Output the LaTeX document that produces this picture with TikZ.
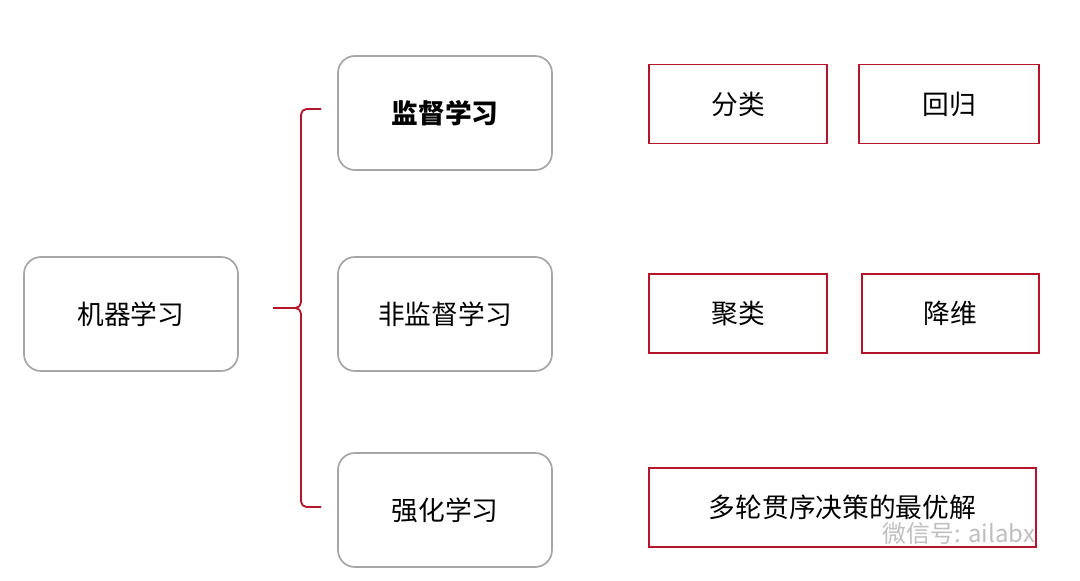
\documentclass[tikz,border=0pt]{standalone}
\usepackage{fontspec}
\setmainfont{Noto Sans CJK SC}
\colorlet{boxgray}{black!35}
\definecolor{brickred}{HTML}{B5152B}
\tikzset{
  learnbox/.style={draw=boxgray, line width=1.2pt, rounded corners=12pt,
    minimum width=214*0.025cm, minimum height=114*0.025cm, font=\fontsize{19}{22}\selectfont},
  taskbox/.style={draw=brickred, line width=1.3pt, minimum height=79*0.025cm,
    font=\fontsize{19}{22}\selectfont},
  brace/.style={draw=brickred, line width=1.3pt, rounded corners=4pt}
}
\begin{document}
\begin{tikzpicture}[x=0.025cm, y=-0.025cm]
  \useasboundingbox (0,0) rectangle (1080,580);
  % left column
  \node[learnbox] (ml) at (131,314) {机器学习};
  % middle column
  \node[learnbox, font=\fontsize{19}{22}\selectfont\bfseries] (sup) at (445,113) {监督学习};
  \node[learnbox] (unsup) at (445,314) {非监督学习};
  \node[learnbox] (rl) at (445,510) {强化学习};
  % right column
  \node[taskbox, minimum width=178*0.025cm] (cls) at (738,104) {分类};
  \node[taskbox, minimum width=180*0.025cm] (reg) at (949,104) {回归};
  \node[taskbox, minimum width=178*0.025cm] (clu) at (738,313.5) {聚类};
  \node[taskbox, minimum width=177*0.025cm] (dim) at (950.5,313.5) {降维};
  \node[taskbox, minimum width=387*0.025cm] (seq) at (842.5,507.5) {多轮贯序决策的最优解};
  % brace
  \coordinate (btop) at (321,109);
  \coordinate (bbot) at (321,507);
  \coordinate (bmid) at (301,308);
  \coordinate (btip) at (273,308);
  \draw[brace] (btop) -| (bmid) -- (btip);
  \draw[brace] (bbot) -| (bmid) -- (btip);
  % watermark
  \node[text=black!25, font=\fontsize{17}{20}\selectfont, anchor=west] (wm) at (878,533) {微信号: ailabx};
\end{tikzpicture}
\end{document}
